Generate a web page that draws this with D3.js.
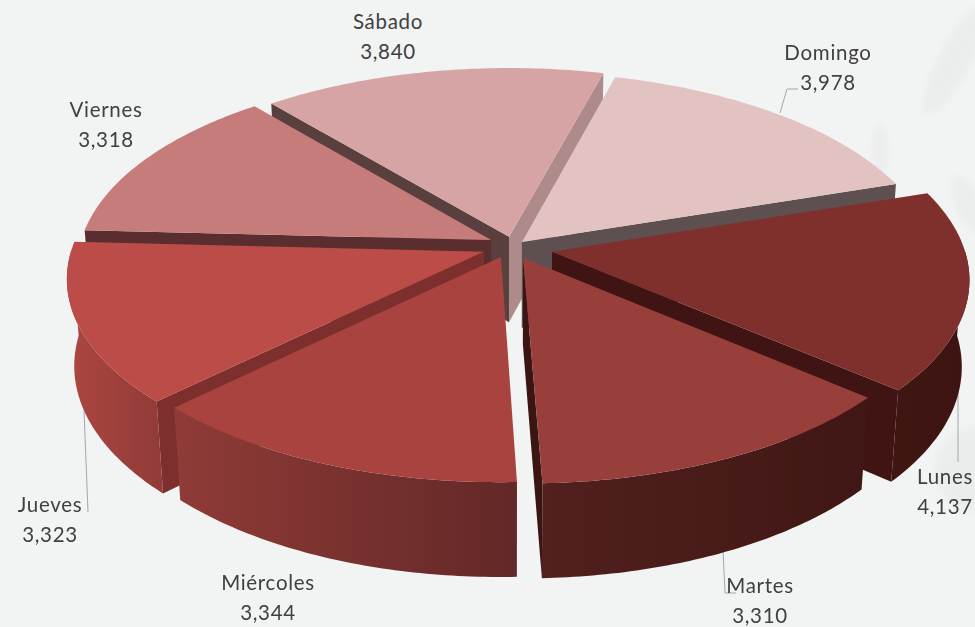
<!DOCTYPE html>
<html>
<head>
<meta charset="utf-8">
<script src="https://cdn.jsdelivr.net/npm/d3@7"></script>
<style>
	html, body { margin: 0; padding: 0; background: #f2f3f3; overflow: hidden; }
	text { font-family: Lato, "Open Sans", sans-serif; font-size: 20.5px; fill: #404040; text-anchor: middle; letter-spacing: 0.7px; }
</style>
</head>
<body>
<svg id="chart" width="975" height="627"></svg>
<script>
// data
var dias = ["Domingo", "Lunes", "Martes", "Miércoles", "Jueves", "Viernes", "Sábado"];
var valores = [3978, 4137, 3310, 3344, 3323, 3318, 3840];

// colors per slice
var color_top = ["#e3c2c2", "#7f302d", "#983f3c", "#a8433f", "#bb4c48", "#c67c7a", "#d6a4a4"];
var color_rim = [["#e3c2c2", "#e3c2c2"], ["#401613", "#3c1411"], ["#52201e", "#3f1714"], ["#903b37", "#622827"], ["#ad4641", "#923c38"], ["#c67c7a", "#c67c7a"], ["#d6a4a4", "#d6a4a4"]];
var color_start = ["#5e5050", "#3f1412", "#3a1512", "#5f2626", "#7c2f2d", "#5a2e2e", "#5a3f3f"]; // wall at start angle
var color_end = ["#5e5050", "#3f1412", "#3a1512", "#5f2626", "#7c2f2d", "#5a2e2e", "#ae8a8a"]; // wall at end angle
var explode = [[11, 13], [41, -8], [12, -21], [-10, -19], [-27, -8], [-20, 17], [-2, 24]]; // slice offset on the disc

// label layout
var label_pos = [[828, 60], [945, 484], [760, 593], [268, 590], [50, 512], [106, 117], [388, 29]];
var leaders = [
	[[780, 113], [787, 89], [798, 89]],
	[[958, 385], [958, 462]],
	[[723, 550], [725, 593], [736, 593]],
	[[84, 410], [88, 512]]
];

const width = 975, height = 627;
const R = 412, H = 99;
const cx = 511, cy = 248;
const elev = 28 * Math.PI / 180, D = 2800;
const start = 15 * Math.PI / 180;

var svg = d3.select("#chart");
var defs = svg.append("defs");

// 3d projection ---------------------------------------------------------
function project(u, v, z) {
	const depth = D + v * Math.cos(elev) - z * Math.sin(elev);
	const s = D / depth;
	return [cx + u * s, cy - (v * Math.sin(elev) + z * Math.cos(elev)) * s];
}

function polar(d, a, r, z) {
	const o = explode[d.index];
	return project(o[0] + r * Math.sin(a), o[1] + r * Math.cos(a), z);
}

function arcPoints(d, z) {
	return d3.range(0, 61).map(i => polar(d, d.startAngle + (d.endAngle - d.startAngle) * i / 60, R, z));
}

var line = d3.line();
function closed(p) { return line(p) + "Z"; }

// background ------------------------------------------------------------
defs.append("filter").attr("id", "soft").append("feGaussianBlur").attr("stdDeviation", 3);
var bg = svg.append("g").attr("filter", "url(#soft)");
var petals = [[955, 60, 16, 60, 28], [880, 150, 7, 24, 0], [968, 205, 12, 30, -25], [975, 470, 40, 42, 0]];
bg.selectAll("ellipse").data(petals).enter().append("ellipse")
	.attr("transform", d => `translate(${d[0]},${d[1]}) rotate(${d[4]})`)
	.attr("rx", d => d[2]).attr("ry", d => d[3])
	.attr("fill", "#e8e9ea").attr("opacity", 0.7);

// leader lines sit behind the pie
svg.append("g").selectAll("path").data(leaders).enter().append("path")
	.attr("d", d => line(d))
	.attr("fill", "none")
	.attr("stroke", "#a6a6a6")
	.attr("stroke-width", 1);

// pie -------------------------------------------------------------------
var pie = d3.pie().sort(null).value(d => d).startAngle(start).endAngle(start + 2 * Math.PI);
var slices = pie(valores);

// far slices first
var order = slices.slice().sort((a, b) => {
	const ma = (a.startAngle + a.endAngle) / 2, mb = (b.startAngle + b.endAngle) / 2;
	return d3.descending(Math.cos(ma), Math.cos(mb));
});

order.forEach(function (d) {
	const g = svg.append("g").attr("class", "slice");
	const topArc = arcPoints(d, 0), botArc = arcPoints(d, -H);
	const apexT = polar(d, d.startAngle, 0, 0), apexB = polar(d, d.startAngle, 0, -H);

	// radial walls, only those turned towards the camera
	const wallS = [apexT, topArc[0], botArc[0], apexB];
	const wallE = [apexT, topArc[60], botArc[60], apexB];
	if (d3.polygonArea(wallS) > 0) g.append("path").attr("d", closed(wallS)).attr("fill", color_start[d.index]);
	if (d3.polygonArea(wallE) < 0) g.append("path").attr("d", closed(wallE)).attr("fill", color_end[d.index]);

	// outer wall, only the part facing the camera
	const xs = d3.extent(topArc, p => p[0]);
	const id = "rim" + d.index;
	const grad = defs.append("linearGradient").attr("id", id)
		.attr("gradientUnits", "userSpaceOnUse")
		.attr("x1", xs[0]).attr("x2", xs[1]).attr("y1", 0).attr("y2", 0);
	grad.append("stop").attr("offset", 0).attr("stop-color", color_rim[d.index][0]);
	grad.append("stop").attr("offset", 1).attr("stop-color", color_rim[d.index][1]);
	const facing = d3.range(0, 61).filter(i => {
		const a = d.startAngle + (d.endAngle - d.startAngle) * i / 60;
		return Math.cos(a) < 0.02;
	});
	if (facing.length > 1) {
		const t = facing.map(i => topArc[i]), b = facing.map(i => botArc[i]).reverse();
		g.append("path")
			.attr("d", closed(t.concat(b)))
			.attr("fill", `url(#${id})`);
	}

	// top face
	g.append("path")
		.attr("d", closed([apexT].concat(topArc)))
		.attr("fill", color_top[d.index]);
});

// labels ----------------------------------------------------------------
var labels = svg.append("g").selectAll("g").data(slices).enter().append("g")
	.attr("transform", d => `translate(${label_pos[d.index][0]},${label_pos[d.index][1]})`);
labels.append("text").attr("y", 0).text(d => dias[d.index]);
labels.append("text").attr("y", 30).text(d => d3.format(",")(d.value));
</script>
</body>
</html>
